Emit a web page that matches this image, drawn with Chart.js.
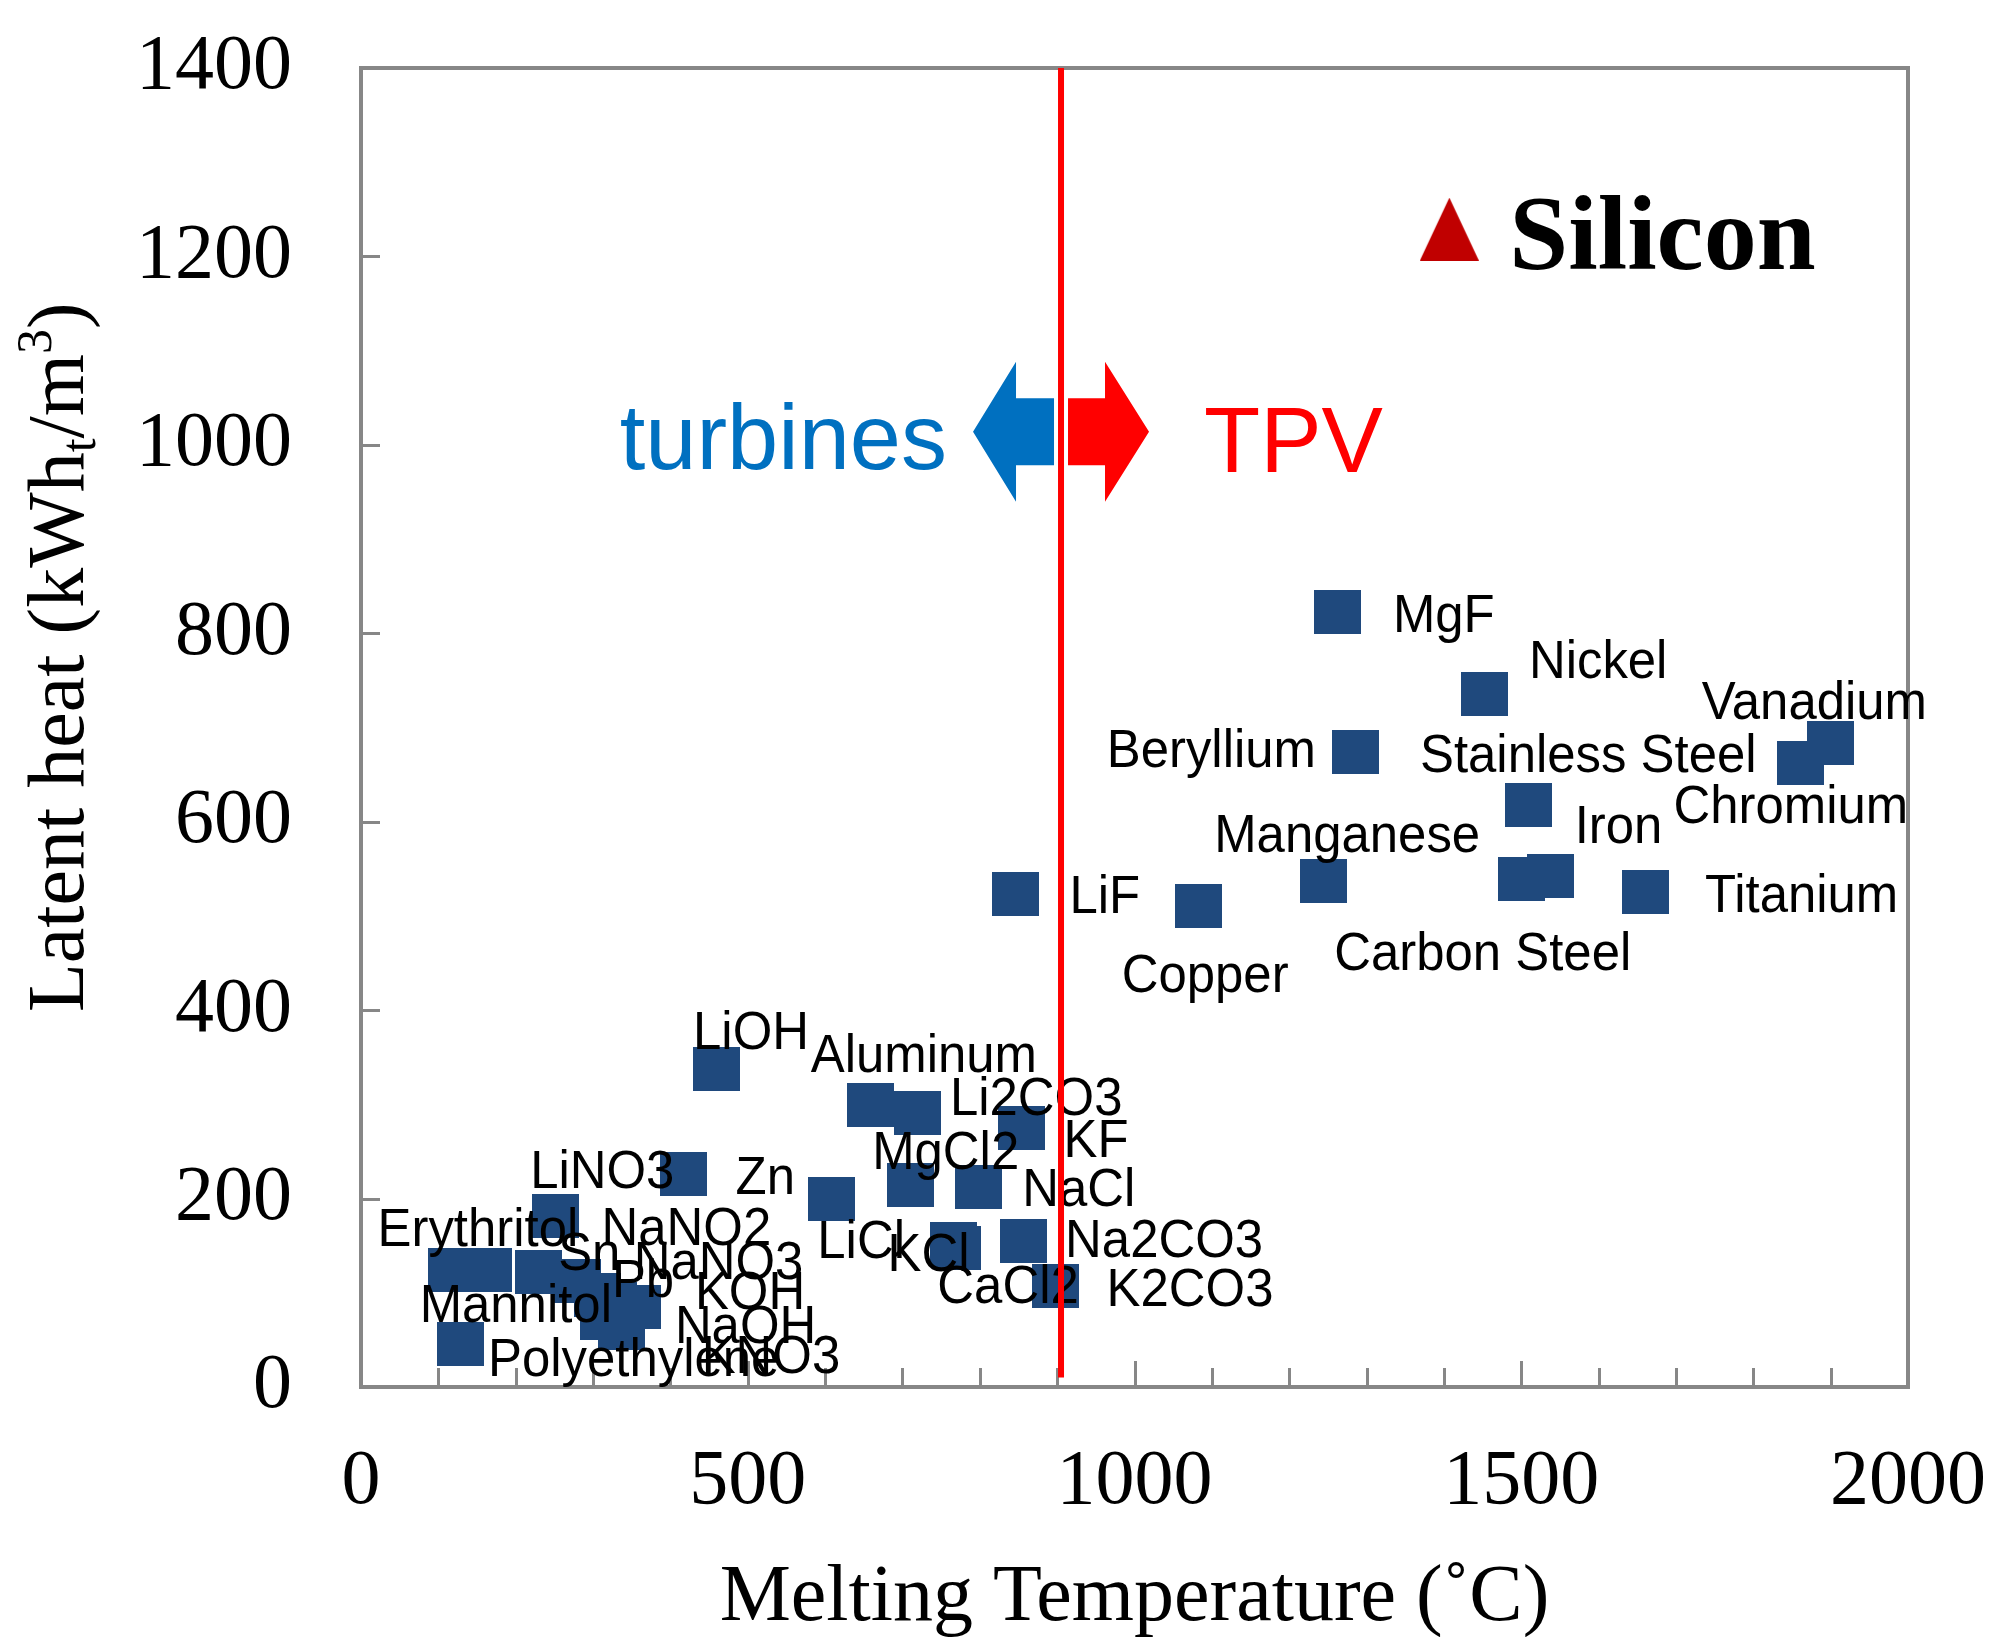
<!DOCTYPE html>
<html>
<head>
<meta charset="utf-8">
<script src="https://cdn.jsdelivr.net/npm/chart.js@4.4.1/dist/chart.umd.min.js"></script>
<style>
  html, body { margin: 0; padding: 0; background: #ffffff; }
  canvas { display: block; }
</style>
</head>
<body>
<canvas id="chart" width="2001" height="1637"></canvas>
<script>
// Phase-change storage materials: melting temperature (°C) vs volumetric latent heat (kWh_t/m³)
const materials = [
  'Polyethylene', 'Erythritol', 'Mannitol', 'Sn', 'LiNO3', 'NaNO2', 'NaNO3', 'NaOH', 'Pb', 'KNO3',
  'KOH', 'Zn', 'LiOH', 'LiCl', 'Aluminum', 'MgCl2', 'Li2CO3', 'KCl', 'CaCl2', 'NaCl',
  'LiF', 'KF', 'Na2CO3', 'K2CO3', 'Copper', 'Manganese', 'MgF', 'Beryllium', 'Nickel', 'Carbon Steel',
  'Stainless Steel', 'Iron', 'Titanium', 'Chromium', 'Vanadium'
];
const meltingTemps = [
  128, 117, 165, 229, 251, 280, 306, 314, 327, 337,
  358, 417, 459, 608, 659, 710, 720, 766, 771, 798,
  846, 854, 856, 898, 1083, 1244, 1263, 1286, 1453, 1500,
  1510, 1538, 1660, 1861, 1900
];
const latentHeats = [
  46, 124, 124, 122, 181, 112, 98, 73, 88, 63,
  85, 226, 337, 200, 299, 214, 291, 152, 148, 212,
  523, 275, 155, 107, 511, 537, 823, 674, 736, 539,
  618, 542, 525, 662, 684
];

// Silicon, highlighted separately
const siliconName = 'Silicon';
const siliconTemp = 1407;
const siliconHeat = 1229;

// Turbine / TPV boundary temperature
const boundaryTemp = 905;
const boundaryLabels = ['turbines', 'TPV'];
const arrowLevel = 1014;

// Axis ticks
const xTickValues = [0, 500, 1000, 1500, 2000];
const yTickValues = [0, 200, 400, 600, 800, 1000, 1200, 1400];
const xMinorStep = 100;

// Label placement around each marker (pixels: left edge, baseline)
const labelOffsets = {
  'Polyethylene': [28, 32], 'Erythritol': [-74, -24], 'Mannitol': [-69, 52], 'Sn': [20, -2],
  'LiNO3': [-25, -28], 'NaNO2': [24, -36], 'NaNO3': [36, -16], 'NaOH': [71, 25], 'Pb': [-2, -7],
  'KNO3': [80, 45], 'KOH': [57, 2], 'Zn': [52, 20], 'LiOH': [-23, -20], 'LiCl': [-14, 59],
  'Aluminum': [-60, -33], 'MgCl2': [-38, -16], 'Li2CO3': [32, 2], 'KCl': [-66, 27],
  'CaCl2': [-20, 55], 'NaCl': [44, 19], 'LiF': [54, 19], 'KF': [42, 29], 'Na2CO3': [42, 16],
  'K2CO3': [51, 20], 'Copper': [-77, 86], 'Manganese': [-109, -29], 'MgF': [55, 20],
  'Beryllium': [-249, 15], 'Nickel': [44, -16], 'Carbon Steel': [-187, 91],
  'Stainless Steel': [-109, -33], 'Iron': [24, -33], 'Titanium': [60, 20],
  'Chromium': [-127, 60], 'Vanadium': [-129, -24]
};

const SQUARE_COLOR = '#1F497D';
const AXIS_COLOR = '#878787';
const SERIF = '"Liberation Serif", "Times New Roman", serif';
const SANS = '"Liberation Sans", Arial, sans-serif';
const LABEL_CONDENSE = 0.96;

// Marker images
function makeSquare(w, h, color) {
  const c = document.createElement('canvas');
  c.width = w; c.height = h;
  const g = c.getContext('2d');
  g.fillStyle = color;
  g.fillRect(0, 0, w, h);
  return c;
}
function makeTriangle(w, h, color) {
  const c = document.createElement('canvas');
  c.width = w; c.height = h;
  const g = c.getContext('2d');
  g.fillStyle = color;
  g.beginPath();
  g.moveTo(w / 2, 0);
  g.lineTo(w, h);
  g.lineTo(0, h);
  g.closePath();
  g.fill();
  return c;
}
const squareMarker = makeSquare(47, 44, SQUARE_COLOR);
const triangleMarker = makeTriangle(59, 63, '#C00000');

const materialPoints = materials.map((m, i) => ({ x: meltingTemps[i], y: latentHeats[i] }));

// keep the plot area exactly where the layout padding puts it
function noScalePadding(scale) {
  scale.paddingLeft = 0;
  scale.paddingRight = 0;
  scale.paddingTop = 0;
  scale.paddingBottom = 0;
}

const decorations = {
  id: 'decorations',
  beforeDatasetsDraw(chart) {
    const { ctx, chartArea: a, scales: { x, y } } = chart;
    ctx.save();
    // plot frame
    ctx.strokeStyle = AXIS_COLOR;
    ctx.lineWidth = 4;
    ctx.strokeRect(a.left, a.top, a.right - a.left, a.bottom - a.top);
    // inward tick marks
    ctx.lineWidth = 3;
    ctx.beginPath();
    for (let v = x.min + xMinorStep; v < x.max; v += xMinorStep) {
      const px = Math.round(x.getPixelForValue(v)) + 0.5;
      const len = (v % 500 === 0) ? 26 : 19;
      ctx.moveTo(px, a.bottom);
      ctx.lineTo(px, a.bottom - len);
    }
    yTickValues.forEach(v => {
      if (v === y.min || v === y.max) return;
      const py = Math.round(y.getPixelForValue(v)) + 0.5;
      ctx.moveTo(a.left, py);
      ctx.lineTo(a.left + 19, py);
    });
    ctx.stroke();
    ctx.restore();
  },
  afterDatasetsDraw(chart) {
    const { ctx, chartArea: a, scales: { x, y } } = chart;
    ctx.save();

    // material names (slightly condensed sans)
    ctx.fillStyle = '#000000';
    ctx.font = '53px ' + SANS;
    ctx.textAlign = 'left';
    ctx.textBaseline = 'alphabetic';
    chart.getDatasetMeta(0).data.forEach((pt, i) => {
      const name = materials[i];
      const off = labelOffsets[name] || [30, 15];
      ctx.save();
      ctx.translate(pt.x + off[0], pt.y + off[1]);
      ctx.scale(LABEL_CONDENSE, 1);
      ctx.fillText(name, 0, 0);
      ctx.restore();
    });

    // silicon name
    const si = chart.getDatasetMeta(1).data[0];
    ctx.font = 'bold 106px ' + SERIF;
    ctx.fillText(siliconName, si.x + 60, si.y + 40);

    // boundary line
    const cx = x.getPixelForValue(boundaryTemp);
    ctx.strokeStyle = '#FF0000';
    ctx.lineWidth = 6;
    ctx.beginPath();
    ctx.moveTo(cx, y.getPixelForValue(y.max));
    ctx.lineTo(cx, y.getPixelForValue(10));
    ctx.stroke();

    // arrows either side of the boundary
    const cy = y.getPixelForValue(arrowLevel);
    ctx.fillStyle = '#0070C0';
    ctx.beginPath();
    ctx.moveTo(cx - 7, cy - 33.5);
    ctx.lineTo(cx - 45, cy - 33.5);
    ctx.lineTo(cx - 45, cy - 70);
    ctx.lineTo(cx - 88, cy);
    ctx.lineTo(cx - 45, cy + 70);
    ctx.lineTo(cx - 45, cy + 33.5);
    ctx.lineTo(cx - 7, cy + 33.5);
    ctx.closePath();
    ctx.fill();

    ctx.fillStyle = '#FF0000';
    ctx.beginPath();
    ctx.moveTo(cx + 7, cy - 33.5);
    ctx.lineTo(cx + 44, cy - 33.5);
    ctx.lineTo(cx + 44, cy - 70);
    ctx.lineTo(cx + 88, cy);
    ctx.lineTo(cx + 44, cy + 70);
    ctx.lineTo(cx + 44, cy + 33.5);
    ctx.lineTo(cx + 7, cy + 33.5);
    ctx.closePath();
    ctx.fill();

    ctx.font = '92px ' + SANS;
    ctx.fillStyle = '#0070C0';
    ctx.textAlign = 'right';
    ctx.fillText(boundaryLabels[0], cx - 114, cy + 37);
    ctx.fillStyle = '#FF0000';
    ctx.textAlign = 'left';
    ctx.fillText(boundaryLabels[1], cx + 143, cy + 40);

    // axis titles
    ctx.fillStyle = '#000000';
    ctx.font = '80px ' + SERIF;
    ctx.textAlign = 'center';
    ctx.fillText('Melting Temperature (\u02DAC)', (a.left + a.right) / 2, 1620);

    ctx.translate(83, 1012);
    ctx.rotate(-Math.PI / 2);
    ctx.textAlign = 'left';
    const big = '80px ' + SERIF;
    const small = '50px ' + SERIF;
    const parts = [
      ['Latent heat (kWh', big, 0],
      ['t', small, 12],
      ['/m', big, 0],
      ['3', small, -32],
      [')', big, 0]
    ];
    let tx = 0;
    parts.forEach(([t, f, dy]) => {
      ctx.font = f;
      ctx.fillText(t, tx, dy);
      tx += ctx.measureText(t).width;
    });
    ctx.restore();
  }
};

new Chart(document.getElementById('chart').getContext('2d'), {
  type: 'scatter',
  data: {
    datasets: [
      {
        label: 'Materials',
        data: materialPoints,
        pointStyle: squareMarker,
        pointRadius: 23,
        pointHoverRadius: 23
      },
      {
        label: siliconName,
        data: [{ x: siliconTemp, y: siliconHeat }],
        pointStyle: triangleMarker,
        pointRadius: 30,
        pointHoverRadius: 30
      }
    ]
  },
  options: {
    responsive: false,
    animation: false,
    devicePixelRatio: 1,
    events: [],
    layout: { padding: { top: 68, right: 93, left: 0, bottom: 0 } },
    plugins: {
      legend: { display: false },
      tooltip: { enabled: false },
      title: { display: false }
    },
    scales: {
      x: {
        type: 'linear',
        min: 0,
        max: 2000,
        afterFit(scale) { scale.height = 250; noScalePadding(scale); },
        afterBuildTicks(scale) { scale.ticks = xTickValues.map(v => ({ value: v })); },
        grid: { display: false, drawTicks: false },
        border: { display: false },
        ticks: {
          color: '#000000',
          font: { family: SERIF, size: 78 },
          padding: 49,
          maxRotation: 0,
          autoSkip: false,
          callback: v => String(v)
        }
      },
      y: {
        type: 'linear',
        min: 0,
        max: 1400,
        afterFit(scale) { scale.width = 361; noScalePadding(scale); },
        afterBuildTicks(scale) { scale.ticks = yTickValues.map(v => ({ value: v })); },
        grid: { display: false, drawTicks: false },
        border: { display: false },
        ticks: {
          color: '#000000',
          font: { family: SERIF, size: 78 },
          padding: 69,
          autoSkip: false,
          callback: v => String(v)
        }
      }
    }
  },
  plugins: [decorations]
});
</script>
</body>
</html>
